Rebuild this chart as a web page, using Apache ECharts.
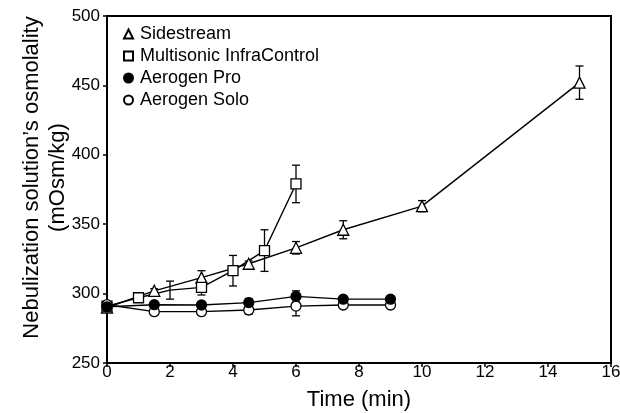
<!DOCTYPE html>
<html><head><meta charset="utf-8">
<script src="https://cdn.jsdelivr.net/npm/echarts@6/dist/echarts.min.js"></script>
<style>html,body{margin:0;padding:0;background:#fff}#c{width:620px;height:413px}</style>
</head><body><div id="c"></div>
<script>
var xTicks = [0,2,4,6,8,10,12,14,16];
var yTicks = [250,300,350,400,450,500];

var sideX = [0,1.5,3,4.5,6,7.5,10,15];
var sideY = [290,302,311.5,321.5,333,346,363,452];
var sideErr = [0,1.5,5,2,4.5,6.5,4,12];

var multiX = [0,1,2,3,4,5,6];
var multiY = [291,297,302.5,304.5,316.5,331,379];
var multiErr = [0,1.5,6.5,5.5,11,15,13.5];

var proX = [0,1.5,3,4.5,6,7.5,9];
var proY = [290.5,292,291.8,293.5,298,296,296];
var proErr = [0,1,1,3,4,1,1];

var soloX = [0,1.5,3,4.5,6,7.5,9];
var soloY = [292,287,287,288.2,291,291.8,291.8];
var soloErr = [0,2,1.5,3,7,1.5,1];

var names = ['Sidestream','Multisonic InfraControl','Aerogen Pro','Aerogen Solo'];

function pts(xs, ys, hide) {
  return xs.map(function (x, i) {
    var d = {value: [x, ys[i]]};
    if (hide && hide.indexOf(i) >= 0) d.symbol = 'none';
    return d;
  });
}
function errs(xs, ys, es) {
  var out = [];
  xs.forEach(function (x, i) { if (es[i] > 0) out.push([x, ys[i] - es[i], ys[i] + es[i]]); });
  return out;
}
function errSeries(data) {
  return {
    type: 'custom', silent: true, z: 1,
    data: data,
    encode: {x: 0, y: [1, 2]},
    renderItem: function (params, api) {
      var lo = api.coord([api.value(0), api.value(1)]);
      var hi = api.coord([api.value(0), api.value(2)]);
      var w = 4;
      var st = {stroke: '#000', lineWidth: 1.3};
      return {type: 'group', children: [
        {type: 'line', shape: {x1: lo[0], y1: lo[1], x2: hi[0], y2: hi[1]}, style: st},
        {type: 'line', shape: {x1: lo[0]-w, y1: lo[1], x2: lo[0]+w, y2: lo[1]}, style: st},
        {type: 'line', shape: {x1: hi[0]-w, y1: hi[1], x2: hi[0]+w, y2: hi[1]}, style: st}
      ]};
    }
  };
}
function lineSeries(name, data, symbol, size, fill, z) {
  return {
    name: name, type: 'line', data: data, symbol: symbol, symbolSize: size,
    z: z, showAllSymbol: true,
    lineStyle: {color: '#000', width: 1.4},
    itemStyle: {color: fill, borderColor: '#000', borderWidth: 1.3},
    emphasis: {disabled: true}
  };
}

var chart = echarts.init(document.getElementById('c'), null, {renderer: 'canvas'});
var F = 'Liberation Sans, Arial, sans-serif';
chart.setOption({
  animation: false,
  grid: {left: 107, right: 9, top: 16, bottom: 50, show: true, borderColor: '#000', borderWidth: 2,
         containLabel: false, outerBoundsMode: 'none'},
  legend: {
    left: 118, top: 20, orient: 'vertical', itemGap: 4, itemWidth: 9, itemHeight: 9,
    textStyle: {fontFamily: F, fontSize: 18, color: '#000', padding: [0,0,0,2]},
    data: [
      {name: names[0], icon: 'triangle'},
      {name: names[1], icon: 'rect'},
      {name: names[2], icon: 'circle'},
      {name: names[3], icon: 'circle'}
    ]
  },
  xAxis: {
    type: 'value', min: 0, max: 16, interval: 2,
    name: 'Time (min)', nameLocation: 'middle', nameGap: 26, nameMoveOverlap: false,
    nameTextStyle: {fontFamily: F, fontSize: 22, color: '#000'},
    axisLine: {lineStyle: {color: '#000', width: 2}},
    axisTick: {inside: false, length: 4, lineStyle: {color: '#000', width: 1.5}},
    axisLabel: {fontFamily: F, fontSize: 17, color: '#000', margin: 1},
    splitLine: {show: false}
  },
  yAxis: {
    type: 'value', min: 250, max: 500, interval: 50,
    name: 'Nebulization solution\u2019s osmolality\n(mOsm/kg)', nameLocation: 'middle', nameGap: 36, nameRotate: 90,
    nameMoveOverlap: false,
    nameTextStyle: {fontFamily: F, fontSize: 22, color: '#000', lineHeight: 26, padding: [0,0,0,24]},
    axisLine: {lineStyle: {color: '#000', width: 2}},
    axisTick: {inside: false, length: 4, lineStyle: {color: '#000', width: 1.5}},
    axisLabel: {fontFamily: F, fontSize: 17, color: '#000', margin: 7},
    splitLine: {show: false}
  },
  series: [
    errSeries(errs(sideX, sideY, sideErr)),
    errSeries(errs(multiX, multiY, multiErr)),
    errSeries(errs(proX, proY, proErr)),
    errSeries(errs(soloX, soloY, soloErr)),
    lineSeries(names[0], pts(sideX, sideY), 'triangle', 11, '#fff', 3),
    lineSeries(names[1], pts(multiX, multiY, [2]), 'rect', 10, '#fff', 3),
    lineSeries(names[3], pts(soloX, soloY), 'circle', 10, '#fff', 4),
    lineSeries(names[2], pts(proX, proY), 'circle', 10, '#000', 5)
  ]
});
</script></body></html>
